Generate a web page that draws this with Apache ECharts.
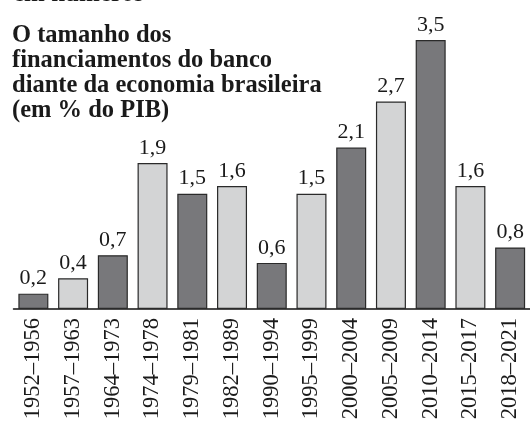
<!DOCTYPE html>
<html><head><meta charset="utf-8">
<script src="https://cdn.jsdelivr.net/npm/echarts@6/dist/echarts.min.js"></script>
<style>html,body{margin:0;padding:0;background:#fff}#c{width:530px;height:425px}</style>
</head><body><div id="c"></div>
<script>
const categories = ['1952–1956','1957–1963','1964–1973','1974–1978','1979–1981','1982–1989','1990–1994','1995–1999','2000–2004','2005–2009','2010–2014','2015–2017','2018–2021'];
const values = [0.2,0.4,0.7,1.9,1.5,1.6,0.6,1.5,2.1,2.7,3.5,1.6,0.8];
const titleText = 'O tamanho dos\nfinanciamentos do banco\ndiante da economia brasileira\n(em % do PIB)';
const topText = 'em números';

const dark = '#78787b', light = '#d3d4d5';
const chart = echarts.init(document.getElementById('c'));
chart.setOption({
  animation: false,
  title: [
    { text: topText, left: 8, top: -23, textStyle: { fontFamily: 'Liberation Serif', fontWeight: 'bold', fontSize: 25, color: '#1a1a1a' } },
    { text: titleText, left: 7, top: 18, textStyle: { fontFamily: 'Liberation Serif', fontWeight: 'bold', fontSize: 24.5, lineHeight: 25, color: '#1a1a1a' } }
  ],
  grid: { left: 13.5, width: 518.5, top: 40, bottom: 116, containLabel: false },
  xAxis: {
    type: 'category', data: categories,
    axisLine: { lineStyle: { color: '#111', width: 1.5 } },
    axisTick: { show: false },
    axisLabel: { rotate: 90, interval: 0, margin: 9, fontFamily: 'Liberation Serif', fontSize: 22.5, color: '#1a1a1a' }
  },
  yAxis: { type: 'value', min: 0, max: 3.5, show: false, splitLine: { show: false } },
  series: [{
    type: 'bar', barWidth: 30,
    data: values.map((v, i) => ({ value: v, itemStyle: { color: i % 2 === 0 ? dark : light } })),
    itemStyle: { borderColor: '#2a2a2a', borderWidth: 1.2 },
    label: { show: true, position: 'top', distance: 4, fontFamily: 'Liberation Serif', fontSize: 22, color: '#1a1a1a',
      formatter: p => String(p.value).replace('.', ',') }
  }]
});
</script></body></html>
